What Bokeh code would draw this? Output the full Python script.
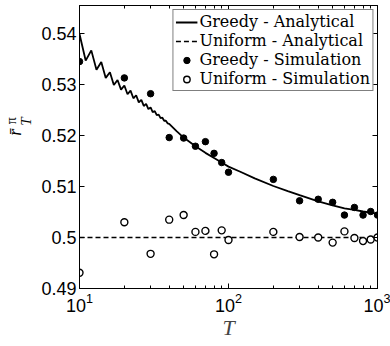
import math
from bokeh.plotting import figure
from bokeh.layouts import row
from bokeh.models import (LogAxis, LinearAxis, Legend, LegendItem, Label,
                          FixedTicker, Range1d)
from bokeh.embed import file_html
from bokeh.resources import INLINE

# ---- data ----
greedy_analytical_T = [10, 11, 12, 13, 14, 15, 16, 17, 18, 19, 20, 21, 22, 23, 24,
                       25, 26, 27, 28, 29, 30, 31, 32, 33, 34, 35, 36, 37, 38, 39,
                       40, 45, 50, 60, 70, 80, 90, 100, 120, 150, 200, 250, 300,
                       400, 500, 600, 700, 800, 900, 1000]
greedy_analytical_r = [0.5399, 0.5347, 0.5367, 0.5329, 0.5344, 0.5313, 0.5324,
                       0.5299, 0.5309, 0.5290, 0.5298, 0.5281, 0.5288, 0.5273,
                       0.5279, 0.5265, 0.5270, 0.5258, 0.5262, 0.5252, 0.5255,
                       0.5246, 0.5248, 0.5240, 0.5241, 0.5234, 0.5235, 0.5229,
                       0.5229, 0.5224, 0.5223, 0.5208, 0.5196, 0.5179, 0.5166,
                       0.5156, 0.5147, 0.5139, 0.5129, 0.5116, 0.5101, 0.5091,
                       0.5083, 0.5071, 0.5063, 0.5057, 0.5054, 0.5051, 0.5049,
                       0.5047]

uniform_analytical_T = [10, 1000]
uniform_analytical_r = [0.5, 0.5]

sim_T = [10, 20, 30, 40, 50, 60, 70, 80, 90, 100, 200, 300, 400, 500, 600, 700,
         800, 900, 1000]
greedy_sim_r = [0.5345, 0.5313, 0.5282, 0.5196, 0.5195, 0.5179, 0.5188, 0.5165,
                0.5147, 0.5128, 0.5114, 0.5072, 0.5075, 0.5069, 0.5044, 0.5059,
                0.5044, 0.5051, 0.5044]
uniform_sim_r = [0.4931, 0.5030, 0.4968, 0.5035, 0.5044, 0.5011, 0.5013, 0.4967,
                 0.5014, 0.4995, 0.5011, 0.5001, 0.5000, 0.4990, 0.5012, 0.4999,
                 0.4993, 0.4996, 0.5000]

x_ticks = [10, 100, 1000]
x_minor_ticks = [20, 30, 40, 50, 60, 70, 80, 90, 200, 300, 400, 500, 600, 700, 800, 900]
y_ticks = [0.49, 0.5, 0.51, 0.52, 0.53, 0.54]
y_tick_labels = ["0.49", "0.5", "0.51", "0.52", "0.53", "0.54"]

legend_labels = ["Greedy - Analytical", "Uniform - Analytical",
                 "Greedy - Simulation", "Uniform - Simulation"]

# y label  \bar{r}_T^\pi : main letter, subscript, superscript
y_label_main = "r\u0304"
y_label_sub = "T"
y_label_sup = "\u03c0"

SANS = "Liberation Sans"
SERIF = "Liberation Serif"

LABEL_W = 38
H = 346

# ---- narrow strip that holds the rotated y-axis label ----
lab = figure(width=LABEL_W, height=H, x_range=Range1d(0, LABEL_W), y_range=Range1d(0, H),
             output_backend="svg", toolbar_location=None,
             x_axis_location=None, y_axis_location=None,
             min_border_left=0, min_border_right=0, min_border_top=0, min_border_bottom=0)
lab.outline_line_color = None
lab.grid.visible = False
lab.background_fill_color = "white"
lab.border_fill_color = "white"
lab.add_layout(Label(x=14.5, y=H - 155, text=y_label_main, angle=math.pi / 2,
                     text_font=SERIF, text_font_style="italic", text_font_size="18px",
                     text_align="center", text_baseline="middle", text_color="black"))
lab.add_layout(Label(x=25.5, y=H - 142, text=y_label_sub, angle=math.pi / 2,
                     text_font=SERIF, text_font_style="italic", text_font_size="15px",
                     text_align="center", text_baseline="middle", text_color="black"))
lab.add_layout(Label(x=11, y=H - 141, text=y_label_sup, angle=math.pi / 2,
                     text_font=SERIF, text_font_size="14px",
                     text_align="center", text_baseline="middle", text_color="black"))

# ---- main chart ----
p = figure(width=390 - LABEL_W, height=H, x_axis_type="log",
           x_range=Range1d(10, 1000), y_range=Range1d(0.49, 0.5455),
           output_backend="svg", toolbar_location=None,
           min_border_left=78 - LABEL_W, min_border_right=13, min_border_top=5,
           min_border_bottom=58)

p.background_fill_color = "white"
p.border_fill_color = "white"
p.outline_line_color = "black"
p.outline_line_width = 1
p.xgrid.visible = False
p.ygrid.visible = False

# analytical lines
r_ga = p.line(greedy_analytical_T, greedy_analytical_r, line_color="black", line_width=1.8)
r_ua = p.line(uniform_analytical_T, uniform_analytical_r, line_color="black",
              line_width=1.3, line_dash="5 3")
# simulation points
r_gs = p.scatter(sim_T, greedy_sim_r, size=6.5, marker="circle",
                 fill_color="black", line_color="black")
r_us = p.scatter(sim_T, uniform_sim_r, size=7, marker="circle",
                 fill_color="white", line_color="black", line_width=1.4)

# bottom axis
xa = p.xaxis[0]
xa.ticker = FixedTicker(ticks=x_ticks, minor_ticks=x_minor_ticks)
xa.major_tick_in = 5
xa.major_tick_out = 0
xa.minor_tick_in = 3
xa.minor_tick_out = 0
xa.major_label_text_font = SANS
xa.major_label_text_font_size = "18px"
xa.major_label_text_color = "black"
xa.major_label_standoff = 4
xa.axis_label = "T"
xa.axis_label_text_font = SERIF
xa.axis_label_text_font_style = "italic"
xa.axis_label_text_font_size = "22px"
xa.axis_label_standoff = 0
xa.axis_line_color = "black"

ya = p.yaxis[0]
ya.ticker = FixedTicker(ticks=y_ticks)
ya.major_label_overrides = dict(zip(y_ticks, y_tick_labels))
ya.major_tick_in = 5
ya.major_tick_out = 0
ya.minor_tick_in = 0
ya.minor_tick_out = 0
ya.major_label_text_font = SANS
ya.major_label_text_font_size = "18px"
ya.major_label_text_color = "black"
ya.major_label_standoff = 3
ya.axis_line_color = "black"

# mirrored ticks (top / right)
top = LogAxis(ticker=FixedTicker(ticks=x_ticks, minor_ticks=x_minor_ticks),
              major_tick_in=5, major_tick_out=0, minor_tick_in=3, minor_tick_out=0,
              major_label_text_color=None, major_label_standoff=0,
              axis_line_color="black")
p.add_layout(top, "above")
right = LinearAxis(ticker=FixedTicker(ticks=y_ticks),
                   major_tick_in=5, major_tick_out=0, minor_tick_in=0, minor_tick_out=0,
                   major_label_text_color=None, major_label_standoff=0,
                   axis_line_color="black")
p.add_layout(right, "right")

legend = Legend(items=[LegendItem(label=legend_labels[0], renderers=[r_ga]),
                       LegendItem(label=legend_labels[1], renderers=[r_ua]),
                       LegendItem(label=legend_labels[2], renderers=[r_gs]),
                       LegendItem(label=legend_labels[3], renderers=[r_us])],
                location="top_right")
legend.label_text_font = "DejaVu Serif"
legend.label_text_font_size = "16px"
legend.label_text_color = "black"
legend.label_height = 16
legend.glyph_height = 16
legend.glyph_width = 22
legend.label_standoff = 2
legend.label_width = 160
legend.spacing = 0
legend.padding = 2
legend.margin = 4
legend.border_line_color = "black"
legend.border_line_width = 1
legend.background_fill_color = "white"
legend.background_fill_alpha = 1
p.add_layout(legend)

layout = row(lab, p, spacing=0)
open("out.html", "w").write(file_html(layout, INLINE))
